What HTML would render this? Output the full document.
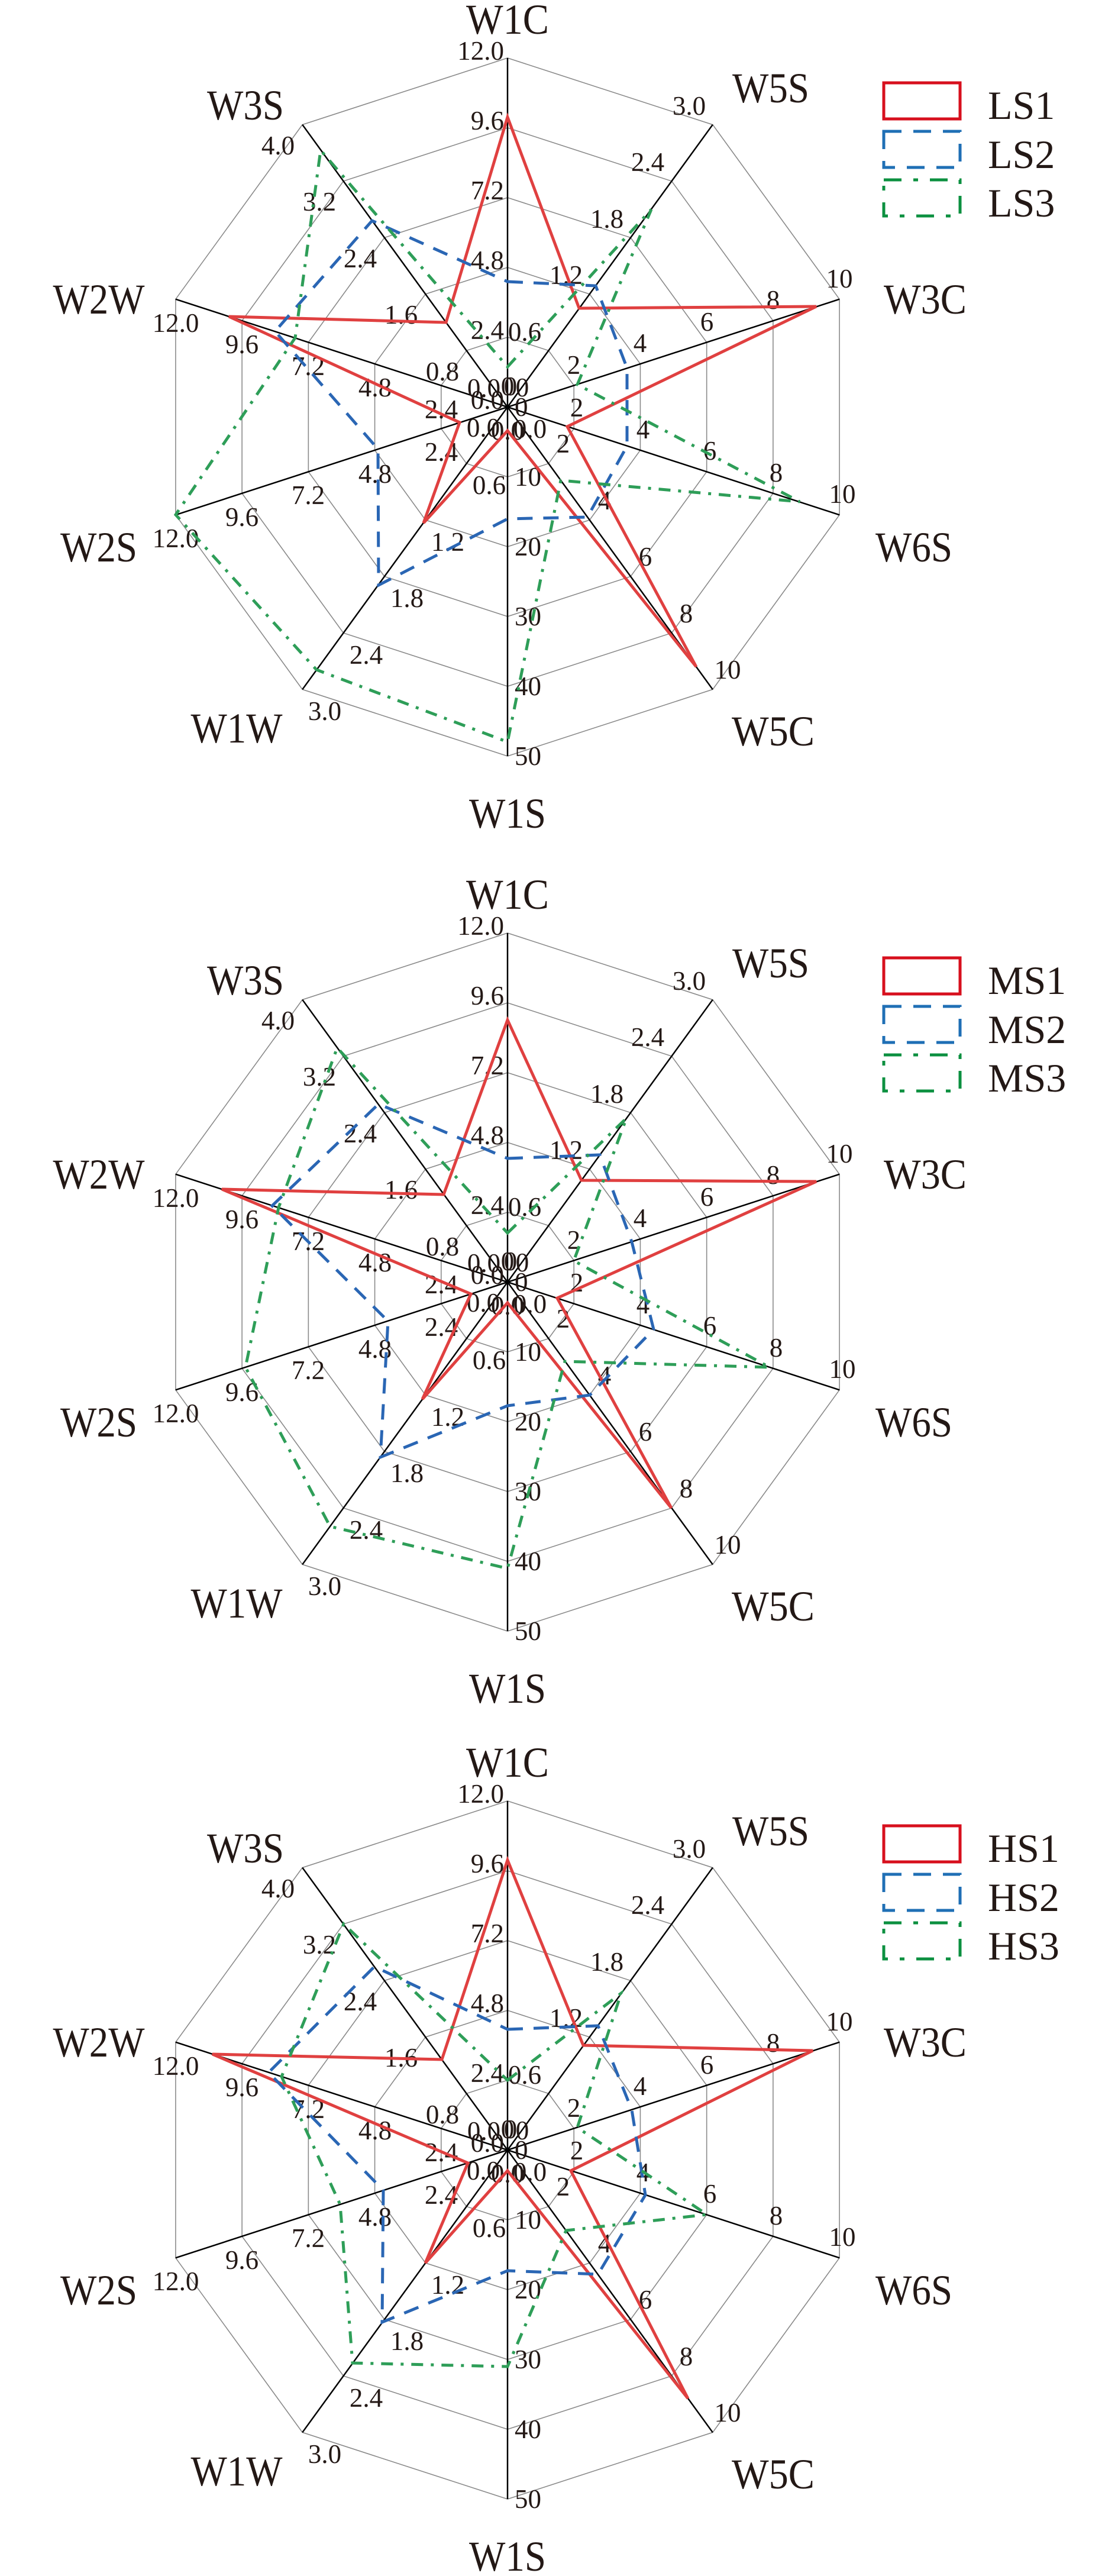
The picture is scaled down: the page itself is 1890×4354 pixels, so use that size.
<!DOCTYPE html>
<html><head><meta charset="utf-8"><style>
html,body{margin:0;padding:0;background:#fff;}
svg{display:block;}
text{font-family:"Liberation Serif",serif;fill:#231815;}
.t{font-size:45px;}
.a{font-size:72px;}
.lg{font-size:68px;}
</style></head><body>
<svg width="1890" height="4354" viewBox="0 0 1890 4354" xmlns="http://www.w3.org/2000/svg">
<defs>
<polygon id="dec" points="0,-590 346.8,-477.3 561.1,-182.3 561.1,182.3 346.8,477.3 0,590 -346.8,477.3 -561.1,182.3 -561.1,-182.3 -346.8,-477.3" fill="none" stroke="#8a8a8a" stroke-width="1.6" vector-effect="non-scaling-stroke"/>
<g id="sk">
<use href="#dec" transform="scale(0.2)"/>
<use href="#dec" transform="scale(0.4)"/>
<use href="#dec" transform="scale(0.6)"/>
<use href="#dec" transform="scale(0.8)"/>
<use href="#dec"/>
<g stroke="#000" stroke-width="2.5">
<line x1="0" y1="0" x2="0" y2="-590"/><line x1="0" y1="0" x2="346.8" y2="-477.3"/><line x1="0" y1="0" x2="561.1" y2="-182.3"/><line x1="0" y1="0" x2="561.1" y2="182.3"/><line x1="0" y1="0" x2="346.8" y2="477.3"/><line x1="0" y1="0" x2="0" y2="590"/><line x1="0" y1="0" x2="-346.8" y2="477.3"/><line x1="0" y1="0" x2="-561.1" y2="182.3"/><line x1="0" y1="0" x2="-561.1" y2="-182.3"/><line x1="0" y1="0" x2="-346.8" y2="-477.3"/>
</g>
<g class="t" text-anchor="end" dominant-baseline="central">
<text x="-6" y="-12">0.0</text><text x="-6" y="-130">2.4</text><text x="-6" y="-248">4.8</text><text x="-6" y="-366">7.2</text><text x="-6" y="-484">9.6</text><text x="-6" y="-602">12.0</text>
</g>
<g class="t" text-anchor="start" dominant-baseline="central">
<text x="12" y="0">0</text><text x="12" y="118">10</text><text x="12" y="236">20</text><text x="12" y="354">30</text><text x="12" y="472">40</text><text x="12" y="590">50</text>
</g>
<g class="t" text-anchor="middle" dominant-baseline="central">
<text x="-40" y="-32">0.0</text><text x="29" y="-127">0.6</text><text x="99" y="-223">1.2</text><text x="168" y="-318">1.8</text><text x="237" y="-414">2.4</text><text x="307" y="-509">3.0</text>
<text x="0" y="-35">0</text><text x="112" y="-71">2</text><text x="224" y="-108">4</text><text x="337" y="-144">6</text><text x="449" y="-181">8</text><text x="561" y="-217">10</text>
<text x="5" y="-35">0</text><text x="117" y="1">2</text><text x="229" y="38">4</text><text x="342" y="74">6</text><text x="454" y="111">8</text><text x="566" y="147">10</text>
<text x="25" y="-33">0</text><text x="94" y="62">2</text><text x="164" y="158">4</text><text x="233" y="253">6</text><text x="302" y="349">8</text><text x="372" y="444">10</text>
<text x="38" y="37">0.0</text><text x="-31" y="132">0.6</text><text x="-101" y="228">1.2</text><text x="-170" y="323">1.8</text><text x="-239" y="419">2.4</text><text x="-309" y="514">3.0</text>
<text x="0" y="40">0.0</text><text x="-112" y="76">2.4</text><text x="-224" y="113">4.8</text><text x="-337" y="149">7.2</text><text x="-449" y="186">9.6</text><text x="-561" y="222">12.0</text>
<text x="0" y="40">0.0</text><text x="-112" y="4">2.4</text><text x="-224" y="-33">4.8</text><text x="-337" y="-69">7.2</text><text x="-449" y="-106">9.6</text><text x="-561" y="-142">12.0</text>
<text x="-41" y="35">0.0</text><text x="-110" y="-60">0.8</text><text x="-180" y="-156">1.6</text><text x="-249" y="-251">2.4</text><text x="-318" y="-347">3.2</text><text x="-388" y="-442">4.0</text>
</g>
<g class="a" text-anchor="middle" dominant-baseline="central">
<text x="0" y="-655" textLength="140" lengthAdjust="spacingAndGlyphs">W1C</text>
<text x="445" y="-539" textLength="130" lengthAdjust="spacingAndGlyphs">W5S</text>
<text x="706" y="-182" textLength="140" lengthAdjust="spacingAndGlyphs">W3C</text>
<text x="687" y="237" textLength="130" lengthAdjust="spacingAndGlyphs">W6S</text>
<text x="449" y="548" textLength="140" lengthAdjust="spacingAndGlyphs">W5C</text>
<text x="0" y="687" textLength="130" lengthAdjust="spacingAndGlyphs">W1S</text>
<text x="-458" y="543" textLength="155" lengthAdjust="spacingAndGlyphs">W1W</text>
<text x="-691" y="237" textLength="130" lengthAdjust="spacingAndGlyphs">W2S</text>
<text x="-691" y="-182" textLength="155" lengthAdjust="spacingAndGlyphs">W2W</text>
<text x="-443" y="-510" textLength="130" lengthAdjust="spacingAndGlyphs">W3S</text>
</g>
</g>
</defs>

<!-- Chart 1 -->
<g transform="translate(858,688)">
<use href="#sk"/>
<polygon fill="none" stroke="#e04040" stroke-width="5" stroke-linejoin="miter" points="0,-490 121,-167 522,-170 101,33 319,439 0,40 -142,196 -81,26 -471,-153 -104,-143"/>
<polygon fill="none" stroke="#2a66b4" stroke-width="5" stroke-dasharray="26,18" points="0,-212 149,-205 202,-66 202,66 135,186 0,189 -218,301 -219,71 -393,-128 -229,-315"/>
<polygon fill="none" stroke="#2e9e58" stroke-width="5" stroke-dasharray="20,13,5,13" points="0,-68 243,-334 118,-38 494,160 90,124 0,566 -323,444 -561,182 -359,-117 -316,-434"/>
<rect x="636" y="-548" width="129" height="61" fill="none" stroke="#d7101e" stroke-width="5"/>
<rect x="636" y="-466" width="129" height="61" fill="none" stroke="#1f6fb5" stroke-width="5" stroke-dasharray="30,20"/>
<rect x="636" y="-384" width="129" height="61" fill="none" stroke="#0c9040" stroke-width="5" stroke-dasharray="30,20,8,20"/>
<g class="lg" dominant-baseline="central"><text x="812" y="-510">LS1</text><text x="812" y="-427">LS2</text><text x="812" y="-345">LS3</text></g>
</g>

<!-- Chart 2 -->
<g transform="translate(858,2167)">
<use href="#sk"/>
<polygon fill="none" stroke="#e04040" stroke-width="5" points="0,-443 125,-172 522,-170 84,27 277,382 0,35 -144,198 -62,20 -483,-157 -108,-148"/>
<polygon fill="none" stroke="#2a66b4" stroke-width="5" stroke-dasharray="26,18" points="0,-209 156,-215 210,-68 247,80 139,191 0,209 -215,296 -202,66 -398,-129 -218,-301"/>
<polygon fill="none" stroke="#2e9e58" stroke-width="5" stroke-dasharray="20,13,5,13" points="0,-83 201,-277 112,-36 443,144 97,134 0,484 -300,413 -443,144 -387,-126 -288,-396"/>
<rect x="636" y="-548" width="129" height="61" fill="none" stroke="#d7101e" stroke-width="5"/>
<rect x="636" y="-466" width="129" height="61" fill="none" stroke="#1f6fb5" stroke-width="5" stroke-dasharray="30,20"/>
<rect x="636" y="-384" width="129" height="61" fill="none" stroke="#0c9040" stroke-width="5" stroke-dasharray="30,20,8,20"/>
<g class="lg" dominant-baseline="central"><text x="812" y="-510">MS1</text><text x="812" y="-427">MS2</text><text x="812" y="-345">MS3</text></g>
</g>

<!-- Chart 3 -->
<g transform="translate(858,3634)">
<use href="#sk"/>
<polygon fill="none" stroke="#e04040" stroke-width="5" points="0,-490 128,-177 516,-168 107,35 305,420 0,35 -139,191 -67,22 -499,-162 -111,-153"/>
<polygon fill="none" stroke="#2a66b4" stroke-width="5" stroke-dasharray="26,18" points="0,-204 153,-210 210,-68 233,76 153,210 0,204 -212,291 -210,68 -404,-131 -225,-310"/>
<polygon fill="none" stroke="#2e9e58" stroke-width="5" stroke-dasharray="20,13,5,13" points="0,-118 192,-265 118,-38 337,109 99,136 0,366 -262,360 -283,92 -382,-124 -277,-382"/>
<rect x="636" y="-548" width="129" height="61" fill="none" stroke="#d7101e" stroke-width="5"/>
<rect x="636" y="-466" width="129" height="61" fill="none" stroke="#1f6fb5" stroke-width="5" stroke-dasharray="30,20"/>
<rect x="636" y="-384" width="129" height="61" fill="none" stroke="#0c9040" stroke-width="5" stroke-dasharray="30,20,8,20"/>
<g class="lg" dominant-baseline="central"><text x="812" y="-510">HS1</text><text x="812" y="-427">HS2</text><text x="812" y="-345">HS3</text></g>
</g>
</svg>
</body></html>
